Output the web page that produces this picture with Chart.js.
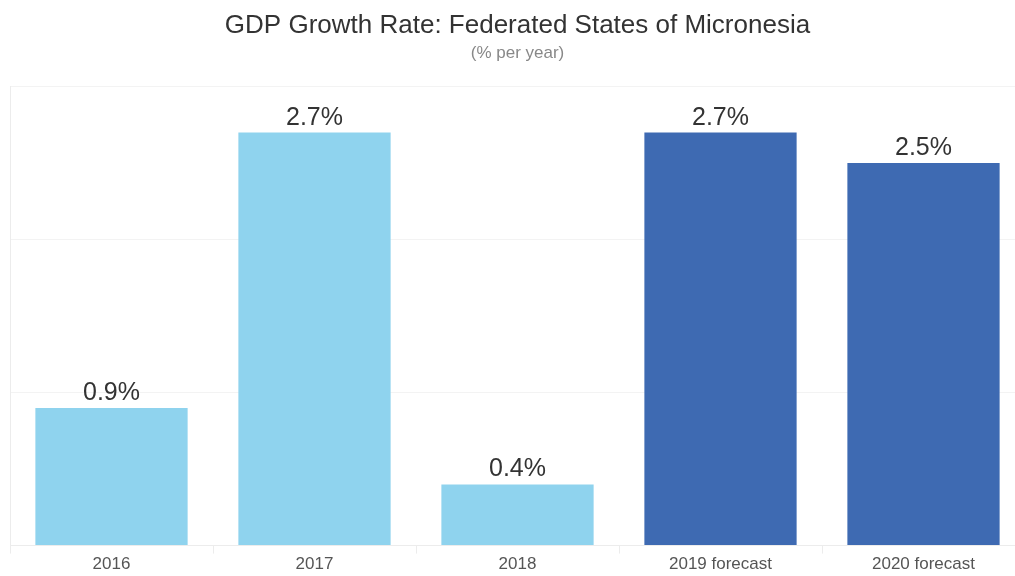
<!DOCTYPE html>
<html>
<head>
<meta charset="utf-8">
<script src="https://cdn.jsdelivr.net/npm/chart.js@4"></script>
<style>
  html, body { margin: 0; padding: 0; background: #fff; overflow: hidden; }
  #wrap { width: 1032px; height: 576px; }
</style>
</head>
<body>
<div id="wrap"><canvas id="gdpChart" width="1032" height="576"></canvas></div>
<script>
// --- Data ---
const categories = ['2016', '2017', '2018', '2019 forecast', '2020 forecast'];
const growthRates = [0.9, 2.7, 0.4, 2.7, 2.5];
const barColors = ['#8fd3ee', '#8fd3ee', '#8fd3ee', '#3e6ab2', '#3e6ab2'];
const yTicks = [0, 1, 2, 3];

const FONT = "'Liberation Sans Narrow', 'Arial Narrow', 'Liberation Sans', Arial, sans-serif";

// draws "x.x%" above every bar
const valueLabels = {
    id: 'valueLabels',
    afterDatasetsDraw(chart) {
        const ctx = chart.ctx;
        const meta = chart.getDatasetMeta(0);
        ctx.save();
        ctx.font = '25px ' + FONT;
        ctx.fillStyle = '#333';
        ctx.textAlign = 'center';
        ctx.textBaseline = 'alphabetic';
        meta.data.forEach((bar, i) => {
            ctx.fillText(growthRates[i].toFixed(1) + '%', bar.x, bar.y - 8);
        });
        ctx.restore();
    }
};

window.onload = () => {
    const ctx = document.getElementById('gdpChart').getContext('2d');
    new Chart(ctx, {
        type: 'bar',
        data: {
            labels: categories,
            datasets: [{
                data: growthRates,
                backgroundColor: barColors,
                categoryPercentage: 1.0,
                barPercentage: 0.75
            }]
        },
        options: {
            responsive: false,
            animation: false,
            layout: { padding: { left: 10, right: 7, top: 0, bottom: 0 } },
            plugins: {
                legend: { display: false },
                tooltip: { enabled: false },
                title: {
                    display: true,
                    text: 'GDP Growth Rate: Federated States of Micronesia',
                    color: '#333',
                    font: { family: FONT, size: 26, weight: 'normal' },
                    padding: { top: 10, bottom: 0 }
                },
                subtitle: {
                    display: true,
                    text: '(% per year)',
                    color: '#888',
                    font: { family: FONT, size: 17, weight: 'normal' },
                    padding: { top: 2, bottom: 23 }
                }
            },
            scales: {
                x: {
                    grid: { display: true, offset: true, drawOnChartArea: false, tickLength: 8, color: '#ececec' },
                    border: { display: true, color: '#ececec' },
                    ticks: { color: '#555', font: { family: FONT, size: 17 }, padding: 1 }
                },
                y: {
                    min: yTicks[0],
                    max: yTicks[yTicks.length - 1],
                    afterBuildTicks: axis => { axis.ticks = yTicks.map(v => ({ value: v })); },
                    grid: { color: '#f3f3f3', drawTicks: false },
                    border: { display: true, color: '#ececec' },
                    ticks: { display: false }
                }
            }
        },
        plugins: [valueLabels]
    });
};
</script>
</body>
</html>
